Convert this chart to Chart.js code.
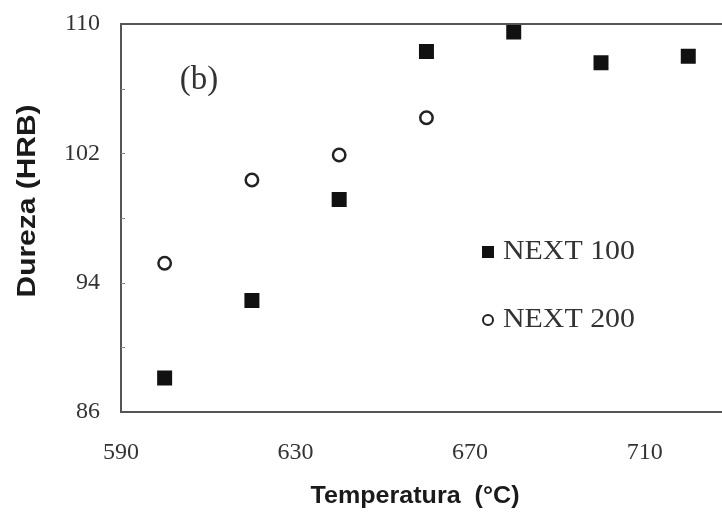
<!DOCTYPE html>
<html>
<head>
<meta charset="utf-8">
<script src="https://cdn.jsdelivr.net/npm/chart.js@4.4.0/dist/chart.umd.min.js"></script>
<style>
  html, body { margin: 0; padding: 0; background: #ffffff; }
  #wrap { width: 722px; height: 517px; position: relative; }
</style>
</head>
<body>
<div id="wrap"><canvas id="c" width="722" height="517"></canvas></div>
<script>
// ---- data ----
const temps100 = [600, 620, 640, 660, 680, 700, 720];
const next100  = [88.1, 92.9, 99.15, 108.3, 109.5, 107.6, 108.0];
const temps200 = [600, 620, 640, 660];
const next200  = [95.2, 100.35, 101.9, 104.2];
const xTickValues = [590, 630, 670, 710];
const yTickValues = [86, 94, 102, 110];
const yMinorTicks = [90, 94, 98, 102, 106];
const seriesNames = ['NEXT 100', 'NEXT 200'];
const xTitle = 'Temperatura  (°C)';
const yTitle = 'Dureza (HRB)';
const panelLabel = '(b)';

function fitText(ctx, text, cx, cy, targetW, font, color, rot) {
  ctx.save();
  ctx.font = font;
  ctx.fillStyle = color;
  ctx.textAlign = 'center';
  ctx.textBaseline = 'middle';
  const w = ctx.measureText(text).width;
  ctx.translate(cx, cy);
  if (rot) ctx.rotate(rot);
  ctx.scale(targetW / w, 1);
  ctx.fillText(text, 0, 0);
  ctx.restore();
}
function fitTextLeft(ctx, text, x, cy, targetW, font, color) {
  ctx.save();
  ctx.font = font;
  ctx.fillStyle = color;
  ctx.textAlign = 'left';
  ctx.textBaseline = 'middle';
  const w = ctx.measureText(text).width;
  ctx.translate(x, cy);
  ctx.scale(targetW / w, 1);
  ctx.fillText(text, 0, 0);
  ctx.restore();
}

const decor = {
  id: 'decor',
  beforeDraw(chart) {
    const ctx = chart.ctx;
    ctx.save();
    ctx.fillStyle = '#ffffff';
    ctx.fillRect(0, 0, chart.width, chart.height);
    ctx.restore();
  },
  afterDraw(chart) {
    const ctx = chart.ctx;
    const a = chart.chartArea;
    const ys = chart.scales.y;
    ctx.save();
    ctx.strokeStyle = '#555';
    ctx.lineWidth = 2;
    ctx.beginPath();
    ctx.moveTo(a.left - 1, a.top);
    ctx.lineTo(chart.width, a.top);
    ctx.moveTo(a.right - 1, a.bottom);
    ctx.lineTo(chart.width, a.bottom);
    ctx.stroke();
    ctx.strokeStyle = '#888';
    ctx.lineWidth = 1;
    yMinorTicks.forEach(v => {
      const py = Math.round(ys.getPixelForValue(v)) + 0.5;
      ctx.beginPath();
      ctx.moveTo(a.left, py);
      ctx.lineTo(a.left + 4, py);
      ctx.stroke();
    });
    ctx.restore();

    ctx.save();
    ctx.font = '33px "Liberation Serif", "Times New Roman", serif';
    ctx.fillStyle = '#333';
    ctx.textAlign = 'center';
    ctx.textBaseline = 'middle';
    ctx.fillText(panelLabel, 199, 80);
    ctx.restore();

    const lx = 488;
    const ly = [252, 320];
    ctx.save();
    ctx.fillStyle = '#111';
    ctx.fillRect(lx - 6, ly[0] - 6, 12, 12);
    ctx.strokeStyle = '#222';
    ctx.lineWidth = 2;
    ctx.beginPath();
    ctx.arc(lx, ly[1], 5, 0, Math.PI * 2);
    ctx.stroke();
    ctx.restore();
    fitTextLeft(ctx, seriesNames[0], 503, ly[0], 132, '27px "Liberation Serif", "Times New Roman", serif', '#333');
    fitTextLeft(ctx, seriesNames[1], 503, ly[1], 132, '27px "Liberation Serif", "Times New Roman", serif', '#333');

    fitText(ctx, xTitle, 415, 497, 209, 'bold 23px "Liberation Sans", Arial, sans-serif', '#1a1a1a', 0);
    fitText(ctx, yTitle, 28, 201, 193, 'bold 26px "Liberation Sans", Arial, sans-serif', '#1a1a1a', -Math.PI / 2);
  }
};

const tickFont = { family: '"Liberation Serif", "Times New Roman", serif', size: 24 };

new Chart(document.getElementById('c'), {
  type: 'scatter',
  data: {
    datasets: [
      {
        label: seriesNames[0],
        data: temps100.map((t, i) => ({ x: t, y: next100[i] })),
        pointStyle: 'rect',
        pointRadius: 10.6,
        backgroundColor: '#111',
        borderColor: '#111',
        borderWidth: 0
      },
      {
        label: seriesNames[1],
        data: temps200.map((t, i) => ({ x: t, y: next200[i] })),
        pointStyle: 'circle',
        pointRadius: 6.2,
        backgroundColor: '#ffffff',
        borderColor: '#222',
        borderWidth: 2.5
      }
    ]
  },
  options: {
    responsive: false,
    animation: false,
    events: [],
    layout: { padding: { top: 24, left: 0, right: 0, bottom: 0 } },
    plugins: {
      legend: { display: false },
      tooltip: { enabled: false },
      title: { display: false }
    },
    scales: {
      x: {
        type: 'linear',
        min: 590,
        max: 725.3,
        afterBuildTicks: s => { s.ticks = xTickValues.map(v => ({ value: v })); },
        afterFit: s => { s.height = 105; s.paddingLeft = 0; s.paddingRight = 0; },
        ticks: { font: tickFont, color: '#333', padding: 26, maxRotation: 0, autoSkip: false },
        grid: { display: false, drawTicks: false },
        border: { display: true, color: '#555', width: 2 }
      },
      y: {
        type: 'linear',
        min: 86,
        max: 110,
        afterBuildTicks: s => { s.ticks = yTickValues.map(v => ({ value: v })); },
        afterFit: s => { s.width = 121; s.paddingTop = 0; s.paddingBottom = 0; },
        ticks: { font: tickFont, color: '#333', padding: 21, autoSkip: false },
        grid: { display: false, drawTicks: false },
        border: { display: true, color: '#555', width: 2 }
      }
    }
  },
  plugins: [decor]
});
</script>
</body>
</html>
